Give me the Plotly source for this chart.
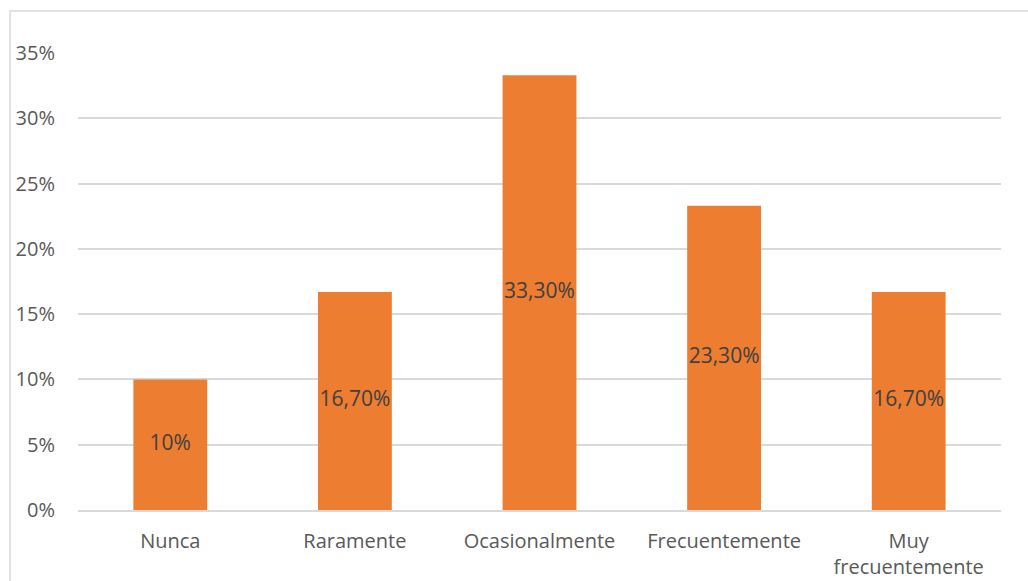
import plotly.graph_objects as go

# Response categories and share of answers (fraction of respondents)
categories = ["Nunca", "Raramente", "Ocasionalmente", "Frecuentemente", "Muy<br>frecuentemente"]
shares = [0.10, 0.167, 0.333, 0.233, 0.167]

# Y axis ticks
y_ticks = [0, 0.05, 0.10, 0.15, 0.20, 0.25, 0.30, 0.35]
y_tick_labels = ["0%", "5%", "10%", "15%", "20%", "25%", "30%", "35%"]


def pct_label(v):
    s = f"{v * 100:.2f}".replace(".", ",")
    if s.endswith(",00"):
        s = s[:-3]
    return s + "%"


labels = [pct_label(v) for v in shares]

FONT = "Open Sans"
W, H = 1028, 581
ML, MR, MT, MB = 78, 27, 53, 71

fig = go.Figure()
fig.add_trace(go.Bar(
    x=categories,
    y=shares,
    marker=dict(color="#ED7D31", line=dict(width=0)),
    hoverinfo="skip",
))
# Value labels centred in each bar
fig.add_trace(go.Scatter(
    x=categories,
    y=[v / 2 for v in shares],
    mode="text",
    text=labels,
    textposition="middle center",
    textfont=dict(family=FONT, size=21, color="#404040"),
    hoverinfo="skip",
))

pw = W - ML - MR
ph = H - MT - MB
# Outer chart frame
fig.add_shape(
    type="rect", xref="paper", yref="paper",
    x0=(10 - ML) / pw, x1=1.2,
    y0=-0.5, y1=(H - MB - 11) / ph,
    line=dict(color="#D9D9D9", width=1.5),
    layer="below",
)

fig.update_layout(
    width=W, height=H,
    margin=dict(l=ML, r=MR, t=MT, b=MB, autoexpand=False),
    paper_bgcolor="white",
    plot_bgcolor="white",
    showlegend=False,
    bargap=0.6,
    font=dict(family=FONT, size=20, color="#595959"),
    xaxis=dict(
        showgrid=False, automargin=False,
        showline=True, linecolor="#D9D9D9", linewidth=1.5,
        ticks="outside", ticklen=12, tickcolor="rgba(0,0,0,0)",
        tickfont=dict(family=FONT, size=20, color="#595959"),
        fixedrange=True,
    ),
    yaxis=dict(
        range=[0, 0.35], automargin=False,
        tickvals=y_ticks,
        ticktext=y_tick_labels,
        showgrid=True, gridcolor="#D9D9D9", gridwidth=1.5,
        zeroline=False, showline=False,
        ticks="outside", ticklen=18, tickcolor="rgba(0,0,0,0)",
        tickfont=dict(family=FONT, size=20, color="#595959"),
        fixedrange=True,
    ),
)

fig.write_html("out.html")
